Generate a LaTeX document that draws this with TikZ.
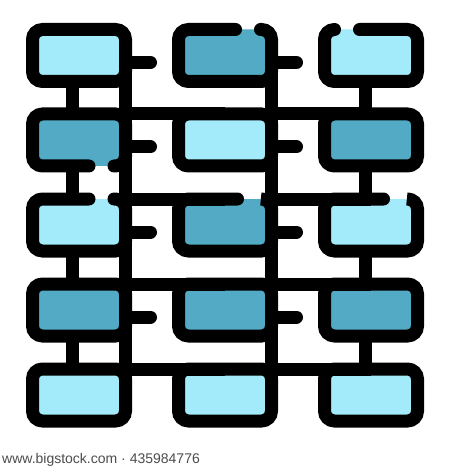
\documentclass[tikz,border=0pt]{standalone}
\usepackage{fontspec}
\setsansfont{Liberation Sans}
\definecolor{iconLight}{HTML}{A3EAFA}
\definecolor{iconDark}{HTML}{52AAC4}

\begin{document}
\begin{tikzpicture}[x=1pt,y=-1pt]
		\tikzstyle{Cell}=[rectangle,rounded corners=10pt,minimum width=93pt,minimum height=52pt,inner sep=0pt,outer sep=0pt]
		\tikzstyle{LightCell}=[Cell,fill=iconLight]
		\tikzstyle{DarkCell}=[Cell,fill=iconDark]
		\tikzstyle{Framed}=[draw=black,line width=13pt]
		\tikzstyle{EdgeStyle}=[draw=black,line width=13pt]
		\tikzstyle{Stub}=[EdgeStyle,line cap=round]
		\tikzstyle{Rim}=[EdgeStyle,rounded corners=10pt,line cap=round]
		\fill[white] (0,0) rectangle (450,470);
		\useasboundingbox (0,0) rectangle (450,470);
		% row 1
		\node[LightCell,Framed] (b11) at (79,55.5) {};
		\node[DarkCell] (b12) at (225,55.5) {};
		\node[LightCell] (b13) at (371,55.5) {};
		% row 2
		\node[DarkCell] (b21) at (79,140) {};
		\node[LightCell,Framed] (b22) at (225,140) {};
		\node[DarkCell,Framed] (b23) at (371,140) {};
		% row 3
		\node[LightCell] (b31) at (79,225) {};
		\node[DarkCell] (b32) at (225,225) {};
		\node[LightCell] (b33) at (371,225) {};
		% row 4
		\node[DarkCell,Framed] (b41) at (79,310) {};
		\node[DarkCell,Framed] (b42) at (225,310) {};
		\node[DarkCell,Framed] (b43) at (371,310) {};
		% row 5
		\node[LightCell,Framed] (b51) at (79,395) {};
		\node[LightCell,Framed] (b52) at (225,395) {};
		\node[LightCell,Framed] (b53) at (371,395) {};
		% broken rims
		\draw[Rim] ([xshift=35.5pt]b12.north) -- (b12.north east) -- (b12.south east) -- (b12.south west) -- (b12.north west) -- ([xshift=10.5pt]b12.north);
		\draw[Rim] ([xshift=-11.5pt]b13.north) -- (b13.north east) -- (b13.south east) -- (b13.south west) -- (b13.north west) -- ([xshift=-36.5pt]b13.north);
		\draw[Rim] ([xshift=10pt]b21.south) -- (b21.south west) -- (b21.north west) -- (b21.north east) -- (b21.south east) -- ([xshift=35pt]b21.south);
		\draw[Rim] ([xshift=35pt]b31.north) -- (b31.north east) -- (b31.south east) -- (b31.south west) -- (b31.north west) -- ([xshift=10pt]b31.north);
		\draw[Rim] ([xshift=37.5pt]b32.north) -- (b32.north east) -- (b32.south east) -- (b32.south west) -- (b32.north west) -- ([xshift=12.5pt]b32.north);
		\draw[Rim] ([xshift=37.5pt]b33.north) -- (b33.north east) -- (b33.south east) -- (b33.south west) -- (b33.north west) -- ([xshift=12.5pt]b33.north);
		% spines
		\draw[EdgeStyle] (b11.east) -- (b51.east);
		\draw[EdgeStyle] (b12.east) -- (b52.east);
		% links down the outer columns
		\draw[EdgeStyle] ([xshift=-6.5pt]b11.south) -- ([xshift=-6.5pt]b21.north);
		\draw[EdgeStyle] ([xshift=-6.5pt]b21.south) -- ([xshift=-6.5pt]b31.north);
		\draw[EdgeStyle] ([xshift=-6.5pt]b31.south) -- ([xshift=-6.5pt]b41.north);
		\draw[EdgeStyle] ([xshift=-6.5pt]b41.south) -- ([xshift=-6.5pt]b51.north);
		\draw[EdgeStyle] ([xshift=-5.5pt]b13.south) -- ([xshift=-5.5pt]b23.north);
		\draw[EdgeStyle] ([xshift=-5.5pt]b23.south) -- ([xshift=-5.5pt]b33.north);
		\draw[EdgeStyle] ([xshift=-5.5pt]b33.south) -- ([xshift=-5.5pt]b43.north);
		\draw[EdgeStyle] ([xshift=-5.5pt]b43.south) -- ([xshift=-5.5pt]b53.north);
		% joined tops
		\draw[EdgeStyle] (b21.north east) -- (b22.north);
		\draw[EdgeStyle] (b22.north east) -- (b23.north);
		\draw[EdgeStyle] (b31.north east) -- (b32.north);
		\draw[EdgeStyle] (b32.north east) -- (b33.north);
		\draw[EdgeStyle] (b41.north east) -- (b42.north);
		\draw[EdgeStyle] (b42.north east) -- (b43.north);
		\draw[EdgeStyle] (b51.north east) -- (b52.north);
		\draw[EdgeStyle] (b52.north east) -- (b53.north);
		% stubs
		\draw[Stub] ([yshift=-7pt]b11.east) -- ++(25,0) coordinate (t11);
		\draw[Stub] ([yshift=-7pt]b21.east) -- ++(25,0) coordinate (t21);
		\draw[Stub] ([yshift=-7pt]b31.east) -- ++(25,0) coordinate (t31);
		\draw[Stub] ([yshift=-7pt]b41.east) -- ++(25,0) coordinate (t41);
		\draw[Stub] ([yshift=-7pt]b12.east) -- ++(25,0) coordinate (t12);
		\draw[Stub] ([yshift=-7pt]b22.east) -- ++(25,0) coordinate (t22);
		\draw[Stub] ([yshift=-7pt]b32.east) -- ++(25,0) coordinate (t32);
		\draw[Stub] ([yshift=-7pt]b42.east) -- ++(25,0) coordinate (t42);
		\node[anchor=base west,inner sep=0pt,text=black!70,font=\sffamily\fontsize{14}{16}\selectfont] (credit) at (2,463) {www.bigstock.com · 435984776};
	\end{tikzpicture}
\end{document}
